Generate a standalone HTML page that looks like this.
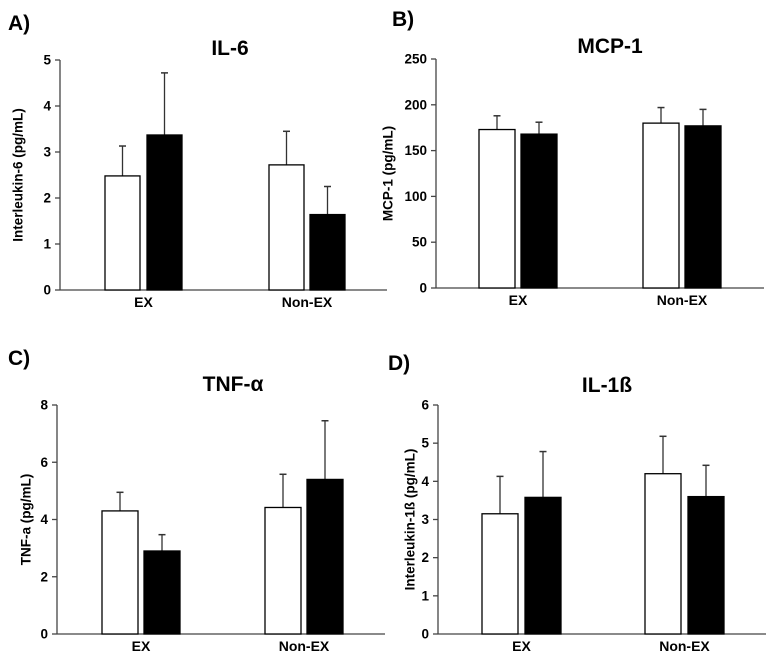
<!DOCTYPE html>
<html><head><meta charset="utf-8"><style>
body{margin:0;background:#fff;}
svg{display:block;font-family:"Liberation Sans",Arial,sans-serif;font-weight:bold;}
</style></head><body>
<svg id="fig" width="776" height="663" viewBox="0 0 776 663"></svg>
<script>
const categories = ["EX","Non-EX"];
const aWhite=[2.48,2.72], aWhiteErr=[3.13,3.45], aBlack=[3.37,1.64], aBlackErr=[4.72,2.25];
const aTicks=[0,1,2,3,4,5];
const bWhite=[173,180], bWhiteErr=[188,197], bBlack=[168,177], bBlackErr=[181,195];
const bTicks=[0,50,100,150,200,250];
const cWhite=[4.3,4.42], cWhiteErr=[4.95,5.58], cBlack=[2.9,5.4], cBlackErr=[3.47,7.45];
const cTicks=[0,2,4,6,8];
const dWhite=[3.15,4.2], dWhiteErr=[4.13,5.18], dBlack=[3.58,3.6], dBlackErr=[4.78,4.42];
const dTicks=[0,1,2,3,4,5,6];

const svg=document.getElementById('fig');
const NS='http://www.w3.org/2000/svg';
function mk(tag,attrs,parent,text){const e=document.createElementNS(NS,tag);for(const k in attrs)e.setAttribute(k,attrs[k]);if(text!==undefined)e.textContent=text;parent.appendChild(e);return e;}

const panels=[
 {id:'a',letter:'A)',lx:8,ly:30,title:'IL-6',tx:230,ty:55,ylabel:'Interleukin-6 (pg/mL)',ax:60,top:60,bot:290,xend:387,wx:[105,269],bx:[147,310],bw:35,white:aWhite,we:aWhiteErr,black:aBlack,be:aBlackErr,ticks:aTicks,ylx:18},
 {id:'b',letter:'B)',lx:392,ly:26,title:'MCP-1',tx:610,ty:53,ylabel:'MCP-1 (pg/mL)',ax:436,top:59,bot:288,xend:764,wx:[479,643],bx:[521,685],bw:36,white:bWhite,we:bWhiteErr,black:bBlack,be:bBlackErr,ticks:bTicks,ylx:388},
 {id:'c',letter:'C)',lx:8,ly:365,title:'TNF-\u03b1',tx:233,ty:391,ylabel:'TNF-a (pg/mL)',ax:57,top:405,bot:634,xend:385,wx:[102,265],bx:[144,307],bw:36,white:cWhite,we:cWhiteErr,black:cBlack,be:cBlackErr,ticks:cTicks,ylx:26},
 {id:'d',letter:'D)',lx:388,ly:370,title:'IL-1\u00df',tx:607,ty:392,ylabel:'Interleukin-1\u00df (pg/mL)',ax:438,top:405,bot:634,xend:766,wx:[482,645],bx:[525,688],bw:36,white:dWhite,we:dWhiteErr,black:dBlack,be:dBlackErr,ticks:dTicks,ylx:410}
];

panels.forEach(p=>{
 const g=mk('g',{},svg);
 
 
 const max=p.ticks[p.ticks.length-1];
 const y=v=>p.bot-(v/max)*(p.bot-p.top);
 let t=mk('text',{x:p.lx,y:p.ly,'font-size':21},g,p.letter);
 
 
 t=mk('text',{x:p.tx,y:p.ty,'font-size':21,'text-anchor':'middle'},g,p.title);
 
 
 const cy=(p.top+p.bot)/2;
 t=mk('text',{x:p.ylx,y:cy,'font-size':13.5,'text-anchor':'middle',transform:`rotate(-90 ${p.ylx} ${cy})`,dy:'0.35em'},g,p.ylabel);
 
 
 let l=mk('line',{x1:p.ax,y1:p.top,x2:p.ax,y2:p.bot,stroke:'#444','stroke-width':1.3},g);
 
 
 l=mk('line',{x1:p.ax,y1:p.bot,x2:p.xend,y2:p.bot,stroke:'#444','stroke-width':1.3},g);
 
 
 p.ticks.forEach(v=>{
  const tk=mk('line',{x1:p.ax-5,y1:y(v),x2:p.ax,y2:y(v),stroke:'#444','stroke-width':1.3},g);
  
  
  const tl=mk('text',{x:p.ax-9,y:y(v)+4.5,'font-size':13.5,'text-anchor':'end'},g,String(v));
  
  
 });
 categories.forEach((c,i)=>{
  const cx=(p.wx[i]+p.bx[i]+p.bw)/2;
  const cl=mk('text',{x:cx,y:p.bot+17,'font-size':14,'text-anchor':'middle'},g,c);
  
  
  [[p.wx[i],p.white[i],p.we[i],'#fff','white'],[p.bx[i],p.black[i],p.be[i],'#000','black']].forEach(([x,v,e,f,nm])=>{
   const mx=x+p.bw/2;
   const el=mk('line',{x1:mx,y1:y(v),x2:mx,y2:y(e),stroke:'#333','stroke-width':1.3},g);
   
   
   const cap=mk('line',{x1:mx-3.5,y1:y(e),x2:mx+3.5,y2:y(e),stroke:'#333','stroke-width':1.5},g);
   
   
   const r=mk('rect',{x:x,y:y(v),width:p.bw,height:p.bot-y(v),fill:f,stroke:'#000','stroke-width':1.3},g);
   
   
  });
 });
});
</script>
</body></html>
